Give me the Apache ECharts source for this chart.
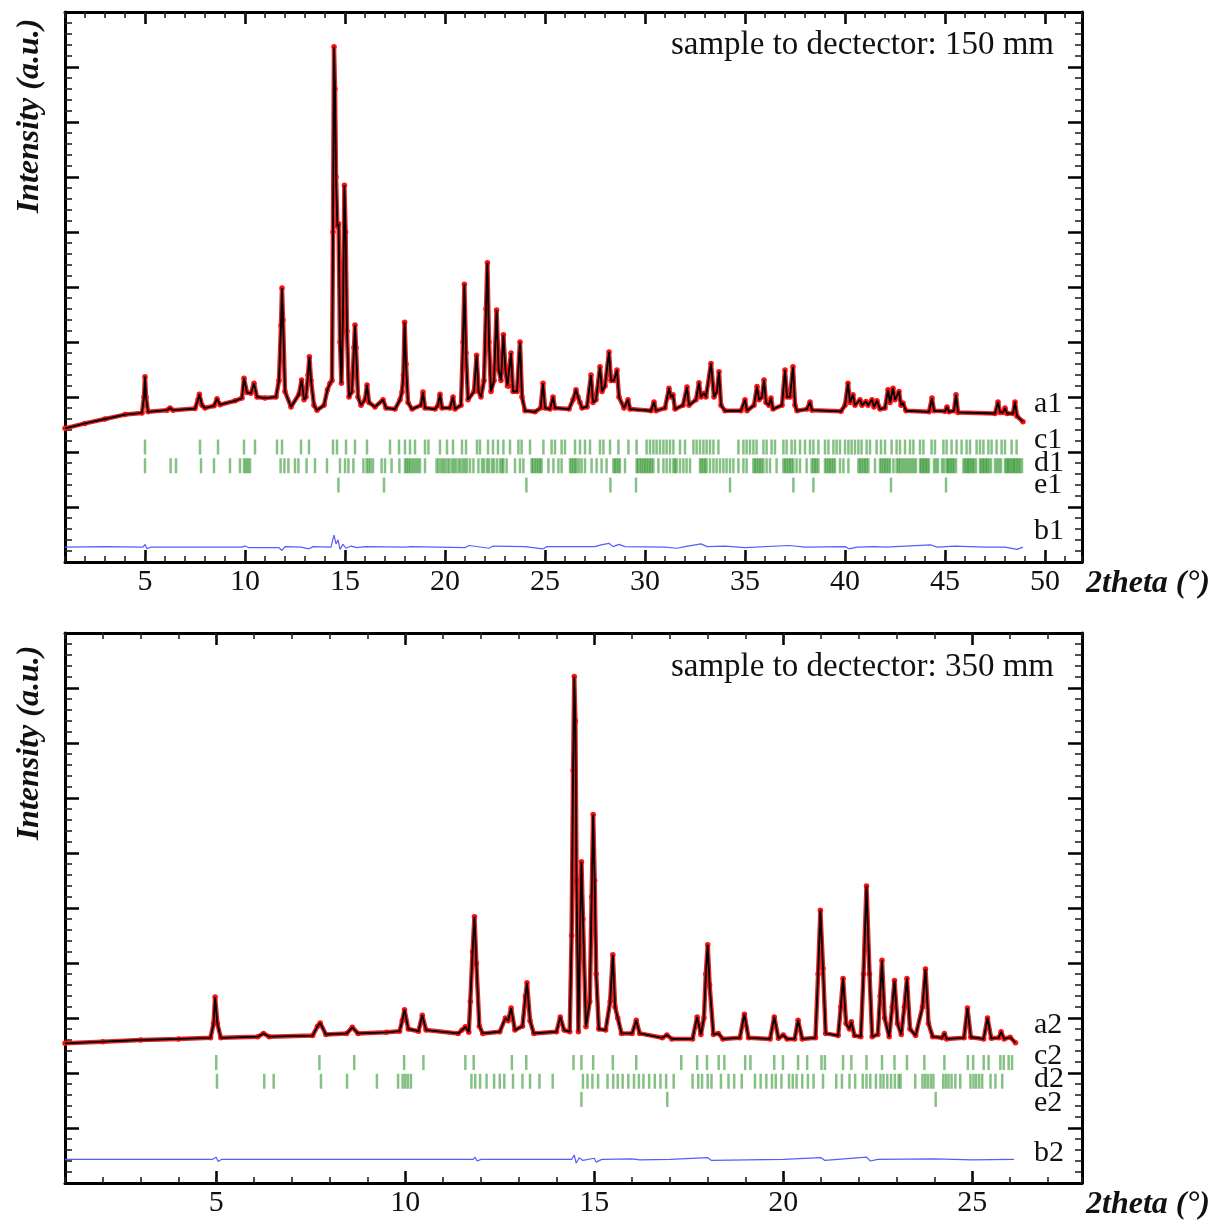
<!DOCTYPE html>
<html>
<head>
<meta charset="utf-8">
<script src="https://cdn.jsdelivr.net/npm/echarts@6.0.0/dist/echarts.min.js"></script>
<style>
html,body{margin:0;padding:0;background:#fff;}
#chart{width:1221px;height:1223px;}
</style>
</head>
<body>
<div id="chart"></div>
<script>
// ---------- DATA ----------
const xTicksTop = [5,10,15,20,25,30,35,40,45,50];
const xTicksBottom = [5,10,15,20,25];
const rowLabelsTop = ['a1','c1','d1','e1','b1'];
const rowLabelsBottom = ['a2','c2','d2','e2','b2'];
const titleTop = 'sample to dectector: 150 mm';
const titleBottom = 'sample to dectector: 350 mm';
const xName = '2theta (°)';
const yName = 'Intensity (a.u.)';

// observed / calculated profile, 150 mm  [2theta, intensity]
const profile1 = [
[1.0,2.43],[2.0,2.52],[3.0,2.6],[4.0,2.68],[4.85,2.71],[4.95,3.0],[5.0,3.37],[5.05,3.0],[5.15,2.73],
[6.1,2.76],[6.25,2.8],[6.4,2.76],[7.5,2.79],[7.65,2.95],[7.72,3.05],[7.85,2.85],[8.0,2.8],[8.45,2.84],[8.6,2.97],[8.75,2.86],
[9.5,2.93],[9.85,2.98],[9.95,3.34],[10.1,3.08],[10.3,3.07],[10.45,3.25],[10.6,3.0],[11.0,2.98],[11.55,3.0],[11.7,3.3],
[11.8,4.3],[11.85,4.98],[11.9,4.4],[12.0,3.1],[12.3,2.82],[12.7,3.05],[12.83,3.31],[12.95,2.95],[13.05,3.0],[13.15,3.4],
[13.22,3.73],[13.3,3.3],[13.45,2.85],[13.6,2.76],[13.95,2.85],[14.12,3.13],[14.25,3.25],[14.35,3.3],[14.4,6.0],[14.45,9.37],
[14.5,8.6],[14.55,7.0],[14.62,6.1],[14.68,6.15],[14.75,4.0],[14.82,3.25],[14.9,4.5],[14.97,6.85],[15.03,6.0],[15.1,4.2],
[15.2,3.0],[15.35,3.1],[15.45,3.9],[15.5,4.31],[15.55,3.9],[15.65,3.0],[15.8,2.85],[16.0,2.95],[16.1,3.22],[16.2,2.9],
[16.5,2.82],[16.9,2.95],[17.05,2.8],[17.5,2.78],[17.75,2.95],[17.85,3.09],[17.92,3.4],[17.98,4.36],[18.05,3.6],[18.15,2.9],
[18.35,2.78],[18.8,2.85],[18.9,3.09],[19.0,2.8],[19.5,2.78],[19.65,2.85],[19.75,3.05],[19.85,2.8],[20.25,2.8],[20.4,3.0],
[20.5,2.78],[20.8,2.85],[20.9,4.0],[20.97,5.05],[21.05,3.8],[21.15,2.95],[21.45,3.1],[21.58,3.76],[21.68,3.1],[21.8,3.0],
[21.95,3.3],[22.05,4.6],[22.12,5.44],[22.2,4.0],[22.3,3.1],[22.45,3.3],[22.58,4.58],[22.68,3.5],[22.8,3.3],[22.92,4.13],
[23.02,3.5],[23.12,3.2],[23.2,3.2],[23.3,3.8],[23.4,3.1],[23.6,3.1],[23.75,4.0],[23.85,3.0],[24.0,2.75],[24.5,2.73],
[24.78,2.8],[24.9,3.25],[25.0,2.8],[25.25,2.78],[25.4,3.0],[25.5,2.8],[26.2,2.78],[26.4,2.95],[26.55,3.13],[26.65,3.0],
[26.75,2.9],[26.85,2.8],[27.1,2.82],[27.3,3.4],[27.4,2.9],[27.55,2.95],[27.75,3.55],[27.85,3.1],[28.0,3.2],[28.2,3.82],
[28.3,3.3],[28.45,3.3],[28.6,3.49],[28.7,3.0],[28.95,2.8],[29.15,2.95],[29.25,2.78],[30.3,2.75],[30.45,2.91],[30.55,2.75],
[31.0,2.8],[31.2,3.16],[31.3,3.0],[31.4,3.04],[31.5,2.78],[31.9,2.85],[32.1,3.18],[32.2,2.85],[32.55,2.95],[32.7,3.26],
[32.8,3.0],[32.95,3.07],[33.05,3.0],[33.3,3.61],[33.45,3.0],[33.6,3.1],[33.7,3.46],[33.8,2.85],[34.0,2.75],[34.8,2.75],
[35.0,2.95],[35.1,2.75],[35.45,2.85],[35.6,3.19],[35.7,2.95],[35.85,3.0],[35.95,3.31],[36.05,2.9],[36.2,2.85],[36.3,2.98],
[36.4,2.78],[36.85,2.85],[37.0,3.49],[37.1,3.0],[37.25,3.0],[37.4,3.55],[37.5,2.85],[37.6,2.75],[38.1,2.78],[38.25,2.91],
[38.35,2.76],[39.8,2.74],[40.0,2.85],[40.15,3.25],[40.25,2.9],[40.4,3.04],[40.5,2.85],[40.75,2.95],[40.85,2.85],[41.05,2.92],
[41.15,2.85],[41.35,2.95],[41.45,2.82],[41.6,2.93],[41.75,2.78],[42.0,2.8],[42.15,3.13],[42.25,2.9],[42.4,3.16],[42.5,2.95],
[42.7,3.1],[42.8,2.85],[42.9,2.89],[43.05,2.75],[44.2,2.73],[44.35,2.98],[44.45,2.75],[45.0,2.74],[45.1,2.82],[45.2,2.73],
[45.45,2.75],[45.55,3.04],[45.65,2.72],[47.5,2.7],[47.65,2.91],[47.75,2.72],[47.9,2.72],[48.0,2.8],[48.1,2.7],[48.4,2.7],
[48.5,2.91],[48.6,2.65],[48.9,2.55]
];

// difference curve, 150 mm
const diff1 = [
[1,0.27],[3,0.28],[4.9,0.27],[5.0,0.32],[5.1,0.24],[5.3,0.27],[8,0.27],[9.8,0.27],[10,0.29],[10.2,0.26],[11.7,0.26],
[11.85,0.21],[12,0.28],[12.8,0.27],[13.2,0.24],[13.4,0.28],[14.3,0.27],[14.45,0.49],[14.55,0.33],[14.65,0.4],[14.75,0.23],
[14.9,0.32],[15.05,0.25],[15.3,0.29],[15.6,0.26],[16,0.28],[18,0.27],[18.1,0.24],[18.3,0.28],[21,0.26],[21.2,0.3],[22.2,0.25],
[22.4,0.29],[24,0.28],[24.9,0.24],[25.1,0.28],[27.5,0.28],[27.8,0.31],[28.2,0.34],[28.4,0.28],[28.7,0.32],[29,0.28],[31,0.27],
[31.6,0.25],[32,0.28],[32.8,0.33],[33.1,0.28],[34,0.29],[35,0.26],[37.2,0.3],[38,0.27],[40,0.28],[40.2,0.24],[40.6,0.27],
[41.5,0.28],[42,0.27],[44.3,0.31],[44.6,0.27],[45.5,0.29],[47,0.27],[48,0.27],[48.6,0.23],[48.9,0.27]
];

// reflection positions, 150 mm
const refl_c1 = [5.0,7.75,8.65,9.95,10.5,11.6,11.85,12.8,13.2,14.4,14.6,15.05,15.5,16.1,17.25,17.7,18.0,18.25,18.5,19.0,19.17,
19.75,20.1,20.4,20.85,21.05,21.6,21.75,22.15,22.4,22.65,22.92,23.25,23.67,23.83,24.25,24.92,25.33,25.5,25.83,26.0,26.5,26.75,
27.0,27.25,27.75,27.92,28.25,28.67,29.17,29.58,30.08,30.25,30.42,30.58,30.75,30.92,31.08,31.25,31.42,31.75,32.0,32.42,32.58,
32.75,32.92,33.08,33.25,33.42,33.67,34.67,34.92,35.08,35.25,35.42,35.58,35.92,36.08,36.33,36.5,36.92,37.08,37.33,37.5,37.75,
38.0,38.25,38.42,38.67,39.0,39.17,39.42,39.58,39.75,40.0,40.17,40.33,40.5,40.67,40.83,41.08,41.25,41.58,41.8,42.0,42.33,42.58,
42.75,43.0,43.25,43.42,43.75,43.92,44.33,44.5,44.92,45.08,45.33,45.58,45.83,46.08,46.25,46.58,46.75,46.92,47.17,47.33,47.58,
47.83,48.0,48.33,48.58];
const refl_d1 = [5.0,6.28,6.55,7.8,8.45,9.25,9.75,9.95,10.05,10.15,10.25,11.78,11.97,12.17,12.5,12.67,13.08,13.5,14.1,14.75,
15.0,15.17,15.42,15.92,16.08,16.18,16.28,16.4,16.83,17.0,17.33,17.72,18.0,18.08,18.17,18.25,18.35,18.45,18.55,18.65,18.75,19.0,
19.58,19.68,19.8,19.9,20.0,20.12,20.22,20.35,20.45,20.55,20.68,20.78,20.9,21.0,21.1,21.25,21.42,21.67,21.85,21.95,22.1,22.2,
22.35,22.45,22.6,22.75,22.85,22.92,23.08,23.5,23.75,23.92,24.33,24.4,24.5,24.58,24.67,24.75,24.83,25.17,25.42,25.67,25.83,
26.25,26.33,26.42,26.5,26.58,26.7,26.83,27.0,27.33,27.58,27.83,28.08,28.42,28.5,28.58,28.67,28.75,29.0,29.58,29.65,29.75,
29.83,29.92,30.0,30.08,30.17,30.25,30.33,30.42,30.67,30.92,31.08,31.25,31.42,31.5,31.58,31.75,31.92,32.08,32.25,32.75,32.83,
32.92,33.0,33.08,33.25,33.42,33.58,33.75,33.92,34.08,34.25,34.42,34.67,34.92,35.08,35.42,35.5,35.58,35.67,35.75,35.83,35.92,
36.08,36.25,36.58,36.92,37.0,37.08,37.17,37.25,37.33,37.42,37.58,37.75,38.08,38.33,38.42,38.5,38.58,38.67,39.0,39.08,39.17,
39.25,39.33,39.42,39.5,39.75,39.92,40.17,40.67,40.75,40.83,40.92,41.0,41.08,41.17,41.5,41.75,41.83,41.92,42.0,42.08,42.17,
42.25,42.42,42.58,42.67,42.75,42.85,42.95,43.05,43.15,43.25,43.35,43.45,43.55,43.75,43.82,43.9,43.97,44.05,44.12,44.2,44.45,
44.55,44.65,44.85,44.95,45.08,45.15,45.22,45.3,45.38,45.45,45.55,45.92,46.0,46.08,46.15,46.22,46.3,46.38,46.45,46.55,46.75,
46.82,46.9,46.97,47.05,47.12,47.2,47.3,47.5,47.6,47.7,47.8,48.0,48.08,48.15,48.22,48.3,48.38,48.45,48.52,48.6,48.68,48.75,48.85];
const refl_e1 = [14.67,16.95,24.07,28.27,29.55,34.25,37.42,38.42,42.3,45.05];

// observed / calculated profile, 350 mm
const profile2 = [
[1.0,2.54],[2.0,2.57],[3.0,2.6],[4.0,2.62],[4.85,2.64],[4.93,2.9],[4.97,3.38],[5.03,2.9],[5.12,2.64],[6.1,2.66],[6.25,2.72],
[6.4,2.66],[7.55,2.68],[7.68,2.85],[7.75,2.91],[7.9,2.7],[8.45,2.72],[8.6,2.83],[8.75,2.72],[9.5,2.74],[9.85,2.76],[9.92,2.95],
[9.98,3.15],[10.08,2.8],[10.35,2.76],[10.45,3.05],[10.55,2.78],[11.4,2.72],[11.5,2.78],[11.59,2.84],[11.68,2.74],[11.72,3.3],
[11.78,4.2],[11.83,4.84],[11.88,4.0],[11.96,2.85],[12.05,2.72],[12.5,2.75],[12.65,3.0],[12.72,2.95],[12.8,3.18],[12.9,2.78],
[13.1,2.85],[13.18,3.4],[13.22,3.64],[13.3,2.95],[13.4,2.72],[14.0,2.75],[14.1,3.02],[14.2,2.78],[14.35,2.75],[14.4,4.5],
[14.44,7.5],[14.47,9.21],[14.5,8.4],[14.53,5.5],[14.58,2.75],[14.62,4.5],[14.66,5.84],[14.7,4.8],[14.78,2.84],[14.88,3.3],
[14.93,5.2],[14.97,6.7],[15.01,5.5],[15.05,3.8],[15.12,2.8],[15.3,2.78],[15.42,3.3],[15.49,4.15],[15.55,3.2],[15.62,3.0],
[15.72,2.72],[16.0,2.72],[16.11,2.96],[16.2,2.72],[16.8,2.64],[16.92,2.69],[17.05,2.62],[17.6,2.62],[17.72,3.02],[17.82,2.7],
[17.9,3.0],[17.95,3.8],[18.0,4.33],[18.05,3.6],[18.15,2.7],[18.28,2.72],[18.4,2.62],[18.85,2.64],[18.97,3.07],[19.08,2.64],
[19.65,2.62],[19.76,3.02],[19.87,2.63],[20.0,2.69],[20.1,2.62],[20.3,2.62],[20.39,2.96],[20.5,2.62],[20.85,2.64],[20.92,3.8],
[20.98,4.96],[21.05,3.9],[21.12,2.72],[21.45,2.68],[21.52,3.2],[21.58,3.72],[21.66,2.9],[21.75,2.8],[21.8,2.93],[21.88,2.68],
[22.05,2.66],[22.12,3.8],[22.2,5.4],[22.28,3.8],[22.35,2.66],[22.5,2.7],[22.56,3.4],[22.61,4.05],[22.68,3.0],[22.8,2.66],
[22.88,3.2],[22.94,3.68],[23.02,2.9],[23.12,2.7],[23.2,3.2],[23.27,3.72],[23.35,2.8],[23.5,2.68],[23.68,3.2],[23.76,3.89],
[23.84,2.9],[23.95,2.66],[24.2,2.64],[24.26,2.72],[24.32,2.62],[24.78,2.64],[24.87,3.18],[24.96,2.65],[25.3,2.62],[25.4,3.0],
[25.5,2.63],[25.7,2.64],[25.76,2.75],[25.84,2.62],[26.0,2.65],[26.14,2.55]
];

// difference curve, 350 mm
const diff2 = [
[1,0.43],[4.9,0.43],[5.0,0.47],[5.05,0.39],[5.15,0.43],[11.8,0.43],[11.85,0.47],[11.9,0.4],[12,0.43],[14.4,0.43],[14.47,0.51],
[14.52,0.36],[14.6,0.46],[14.7,0.41],[15.0,0.45],[15.05,0.38],[15.2,0.43],[16.0,0.44],[16.2,0.42],[17,0.43],[18.0,0.46],
[18.1,0.41],[20,0.43],[21.0,0.46],[21.1,0.41],[22.2,0.47],[22.3,0.4],[22.5,0.43],[24,0.44],[25,0.42],[26.1,0.43]
];

// reflection positions, 350 mm
const refl_c2 = [5.0,7.73,8.65,9.97,10.48,11.59,11.81,12.82,13.2,14.45,14.66,14.97,15.49,16.11,17.3,17.72,17.98,18.29,18.44,
18.99,19.13,19.76,19.99,20.39,20.63,21.01,21.1,21.58,21.8,22.2,22.61,22.94,23.27,23.73,24.26,24.88,25.02,25.3,25.43,25.74,
25.83,25.96,26.05];
const refl_d2 = [5.02,6.27,6.52,7.77,8.46,9.25,9.81,9.93,10.0,10.07,10.15,11.75,11.85,11.98,12.15,12.35,12.5,12.62,12.85,13.1,
13.3,13.55,13.9,14.7,14.82,14.95,15.1,15.35,15.5,15.62,15.75,15.9,16.05,16.18,16.3,16.45,16.6,16.75,16.9,17.1,17.6,17.75,17.85,
18.0,18.1,18.35,18.55,18.7,18.9,19.25,19.4,19.55,19.7,19.8,19.95,20.15,20.25,20.35,20.5,20.65,20.8,21.05,21.4,21.55,21.75,
21.9,22.1,22.2,22.3,22.45,22.57,22.65,22.75,22.85,22.95,23.05,23.1,23.49,23.68,23.75,23.82,23.9,23.97,24.23,24.3,24.37,24.45,
24.55,24.68,24.95,25.03,25.1,25.18,25.26,25.48,25.61,25.79];
const refl_e2 = [14.66,16.93,24.03];

// ---------- CHART ----------
const SERIF = "'Liberation Serif','Times New Roman',serif";
const chart = echarts.init(document.getElementById('chart'), null, {renderer:'canvas'});

const panels = [
  {top:12, max:51.85, ticks:xTicksTop, prof:profile1, diff:diff1, refl:[refl_c1,refl_d1,refl_e1], rowY:[2.09,1.75,1.4]},
  {top:633, max:27.9, ticks:xTicksBottom, prof:profile2, diff:diff2, refl:[refl_c2,refl_d2,refl_e2], rowY:[2.19,1.85,1.52]}
];

const grid=[], xAxis=[], yAxis=[], series=[];
panels.forEach((p,i)=>{
  grid.push({left:65, top:p.top, width:1017, height:550, containLabel:false});
  const base = {gridIndex:i, type:'value', min:1, max:p.max, splitLine:{show:false}};
  xAxis.push(Object.assign({}, base, {position:'bottom',
    axisLine:{show:true, onZero:false, lineStyle:{color:'#000', width:3}},
    axisTick:{show:true, inside:true, length:12, customValues:p.ticks, lineStyle:{color:'#000', width:2.5}},
    axisLabel:{show:true, customValues:p.ticks, fontFamily:SERIF, fontSize:30, color:'#111', margin:5}}));
  xAxis.push(Object.assign({}, base, {position:'bottom', interval:1,
    axisLine:{show:false, onZero:false}, axisTick:{show:true, inside:true, length:6, lineStyle:{color:'#222', width:1.6}},
    axisLabel:{show:false}}));
  xAxis.push(Object.assign({}, base, {position:'top',
    axisLine:{show:true, onZero:false, lineStyle:{color:'#000', width:3}},
    axisTick:{show:true, inside:true, length:12, customValues:p.ticks, lineStyle:{color:'#000', width:2.5}},
    axisLabel:{show:false}}));
  xAxis.push(Object.assign({}, base, {position:'top', interval:1,
    axisLine:{show:false, onZero:false}, axisTick:{show:true, inside:true, length:6, lineStyle:{color:'#222', width:1.6}},
    axisLabel:{show:false}}));
  ['left','right'].forEach(pos=>{
    yAxis.push({gridIndex:i, type:'value', min:0, max:10, interval:1, position:pos,
      axisLine:{show:true, onZero:false, lineStyle:{color:'#000', width:3}},
      axisTick:{show:true, inside:true, length:14, lineStyle:{color:'#000', width:2.5}},
      minorTick:{show:true, splitNumber:5, length:7, lineStyle:{color:'#222', width:1.6}},
      axisLabel:{show:false}, splitLine:{show:false}, minorSplitLine:{show:false}});
  });
  const xi = i*4, yi = i*2;
  // observed: red dots on a red band
  series.push({type:'line', xAxisIndex:xi, yAxisIndex:yi, data:p.prof, symbol:'circle', symbolSize:5.5, showSymbol:true,
    showAllSymbol:true, itemStyle:{color:'#ff1010', borderWidth:0},
    lineStyle:{color:'rgba(225,0,0,0.85)', width:4.5}, z:2, silent:true});
  // calculated: black line
  series.push({type:'line', xAxisIndex:xi, yAxisIndex:yi, data:p.prof, symbol:'none',
    lineStyle:{color:'#000', width:1.8}, z:3, silent:true});
  // difference
  series.push({type:'line', xAxisIndex:xi, yAxisIndex:yi, data:p.diff, symbol:'none',
    lineStyle:{color:'#5a5aff', width:1.2}, z:3, silent:true});
  // reflection markers
  p.refl.forEach((arr,k)=>{
    series.push({type:'scatter', xAxisIndex:xi, yAxisIndex:yi, data:arr.map(v=>[v,p.rowY[k]]),
      symbol:'rect', symbolSize:[2.5,15], itemStyle:{color:'rgba(0,125,0,0.6)'}, z:2, silent:true});
  });
});

const graphic = [];
function txt(x,y,text,size,opts){
  graphic.push(Object.assign({type:'text', x:x, y:y, silent:true,
    style:{text:text, fill:'#111', font:(opts&&opts.font||'')+' '+size+'px '+SERIF,
      textAlign:(opts&&opts.align)||'left', textVerticalAlign:'middle'}}, (opts&&opts.extra)||{}));
}
txt(1054, 45, titleTop, 33, {align:'right'});
txt(1054, 667, titleBottom, 33, {align:'right'});
const rowTop = [404,440,463.5,485,531.5], rowBot=[1025,1056,1079,1103,1153.5];
rowLabelsTop.forEach((t,k)=>txt(1034,rowTop[k],t,30));
rowLabelsBottom.forEach((t,k)=>txt(1034,rowBot[k],t,30));
txt(1086, 584, xName, 32, {font:'italic bold'});
txt(1086, 1205, xName, 32, {font:'italic bold'});
txt(30, 116, yName, 32, {font:'italic bold', align:'center', extra:{rotation:Math.PI/2}});
txt(30, 743, yName, 32, {font:'italic bold', align:'center', extra:{rotation:Math.PI/2}});

chart.setOption({animation:false, backgroundColor:'#fff', grid, xAxis, yAxis, series, graphic});
</script>
</body>
</html>
